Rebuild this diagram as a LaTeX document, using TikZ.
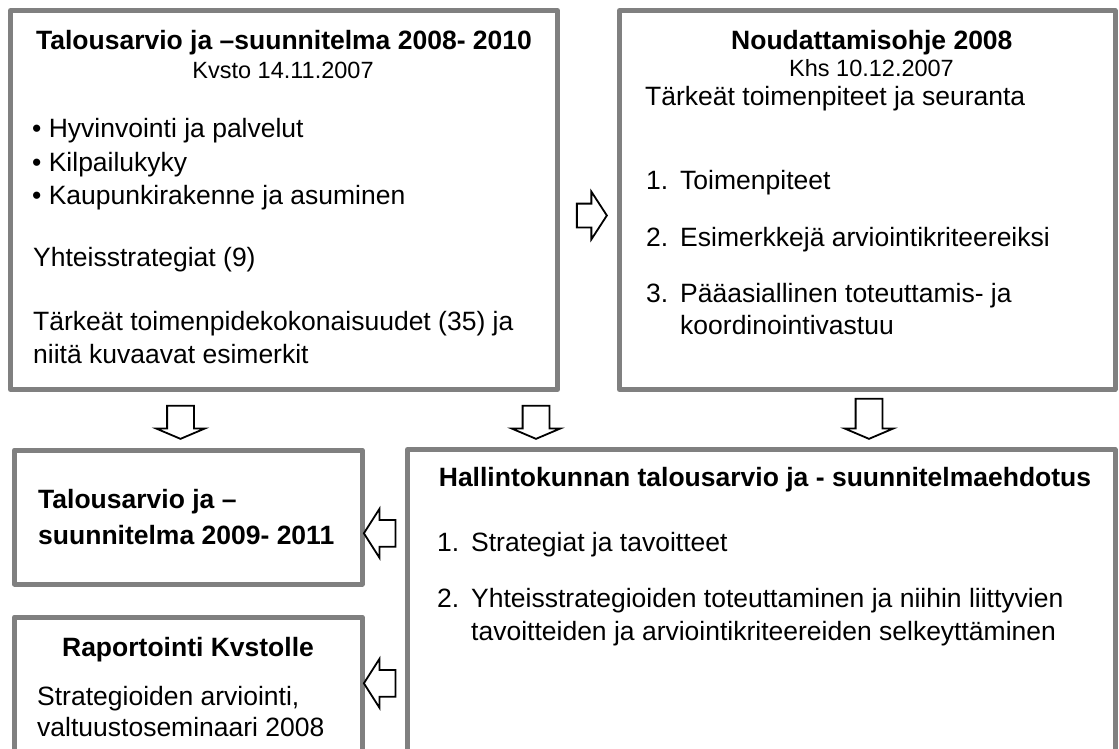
\documentclass[tikz,border=0pt]{standalone}
\usepackage{fontspec}
\setmainfont{Liberation Sans}
\usetikzlibrary{shapes.arrows}
\definecolor{boxgray}{RGB}{128,128,128}
\begin{document}
\begin{tikzpicture}[x=1pt,y=-1pt,
  box/.style={draw=boxgray, line width=5pt, line join=round, rectangle, inner sep=0pt, outer sep=0pt, anchor=north west},
  txt/.style={anchor=base west, inner sep=0pt, font=\fontsize{26.5}{33}\selectfont},
  btxt/.style={anchor=base west, inner sep=0pt, font=\fontsize{26.5}{33}\selectfont\bfseries},
  ctitle/.style={anchor=base, inner sep=0pt, font=\fontsize{26.5}{33}\selectfont\bfseries},
  subt/.style={anchor=base west, inner sep=0pt, font=\fontsize{23.5}{28}\selectfont},
  barrow/.style={single arrow, draw=black, fill=white, line width=1.8pt, line join=miter,
    minimum width=0pt, inner xsep=0pt, outer sep=0pt},
  downarrow/.style={barrow, rotate=-90, inner ysep=12.5pt, single arrow head extend=11pt,
    single arrow tip angle=134},
  leftarrow/.style={barrow, rotate=180, inner ysep=12.5pt, single arrow head extend=11pt,
    single arrow tip angle=115, minimum height=31.7pt},
  rightarrow/.style={barrow, inner ysep=11pt, single arrow head extend=12pt,
    single arrow tip angle=114, minimum height=30pt}
]
\useasboundingbox (0,0) rectangle (1119,749);

% boxes
\node[box, minimum width=547pt, minimum height=379pt] (b1) at (10.5,10.5) {};
\node[box, minimum width=495.5pt, minimum height=379pt] (b2) at (619.5,10.5) {};
\node[box, minimum width=347.5pt, minimum height=134pt] (b3) at (14.5,450) {};
\node[box, minimum width=347.5pt, minimum height=183pt] (b4) at (14.5,617) {};
\node[box, minimum width=707.5pt, minimum height=350pt] (b5) at (407.5,449.5) {};

% box 1 texts
\node[ctitle] (t1) at (284,50) {Talousarvio ja –suunnitelma 2008- 2010};
\node[subt, anchor=base] (s1) at (283,78.5) {Kvsto 14.11.2007};
\node[txt] (l11) at (32,138) {• Hyvinvointi ja palvelut};
\node[txt] (l12) at (32,171.5) {• Kilpailukyky};
\node[txt] (l13) at (32,204.5) {• Kaupunkirakenne ja asuminen};
\node[txt] (l14) at (33,266) {Yhteisstrategiat (9)};
\node[txt] (l15) at (33,330) {Tärkeät toimenpidekokonaisuudet (35) ja};
\node[txt] (l16) at (33,363) {niitä kuvaavat esimerkit};

% box 2 texts
\node[btxt] (t2) at (731,49.5) {Noudattamisohje 2008};
\node[subt] (s2) at (789,77) {Khs 10.12.2007};
\node[txt] (l21) at (645,106) {Tärkeät toimenpiteet ja seuranta};
\node[txt] (n21) at (646,189) {1.};
\node[txt] (l22) at (680,189) {Toimenpiteet};
\node[txt] (n22) at (646,246) {2.};
\node[txt] (l23) at (680,246) {Esimerkkejä arviointikriteereiksi};
\node[txt] (n23) at (646,302) {3.};
\node[txt] (l24) at (680,302) {Pääasiallinen toteuttamis- ja};
\node[txt] (l25) at (680,334) {koordinointivastuu};

% box 3 texts
\node[btxt] (t3a) at (38,508) {Talousarvio ja –};
\node[btxt] (t3b) at (38,544) {suunnitelma 2009- 2011};

% box 4 texts
\node[ctitle] (t4) at (188,656.7) {Raportointi Kvstolle};
\node[txt] (l41) at (37,705.7) {Strategioiden arviointi,};
\node[txt] (l42) at (37,736.7) {valtuustoseminaari 2008};

% box 5 texts
\node[ctitle] (t5) at (765,486) {Hallintokunnan talousarvio ja - suunnitelmaehdotus};
\node[txt] (n51) at (437,551) {1.};
\node[txt] (l51) at (471,551) {Strategiat ja tavoitteet};
\node[txt] (n52) at (437,607) {2.};
\node[txt] (l52) at (471,607) {Yhteisstrategioiden toteuttaminen ja niihin liittyvien};
\node[txt] (l53) at (471,640) {tavoitteiden ja arviointikriteereiden selkeyttäminen};

% block arrows
\node[rightarrow] (a1) at (588,215.5) {};
\node[downarrow, minimum height=33pt] (a2) at (180.5,419.5) {};
\node[downarrow, minimum height=33pt] (a3) at (536,419.5) {};
\node[downarrow, minimum height=40pt] (a4) at (869,416) {};
\node[leftarrow] (a5) at (384,533.3) {};
\node[leftarrow] (a6) at (384,683.3) {};
\end{tikzpicture}
\end{document}
